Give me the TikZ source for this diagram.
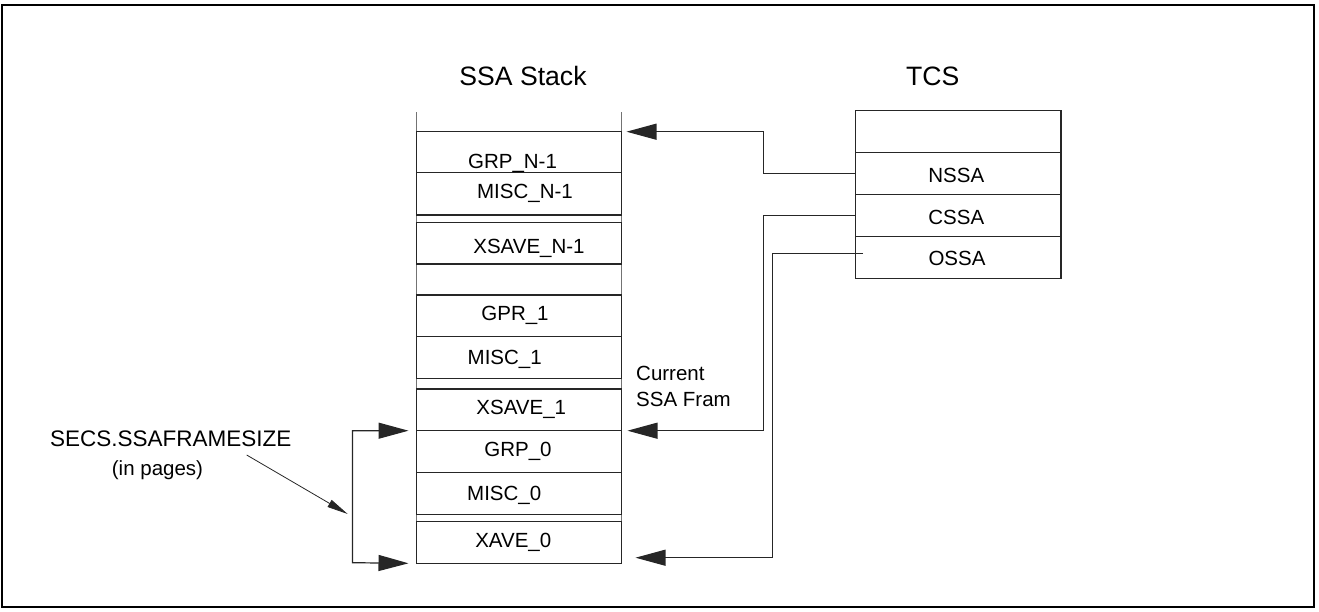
\documentclass[tikz,border=0pt]{standalone}
\usepackage{fontspec}
\setmainfont{Liberation Sans}
\usetikzlibrary{arrows.meta}
\begin{document}
\begin{tikzpicture}[x=1pt,y=-1pt,
  outerframe/.style={draw=black, line width=1.3pt},
  stackline/.style={draw=black!55, line width=1pt},
  cell/.style={draw=black!85, line width=1.2pt, rectangle, inner sep=0pt, outer sep=0pt, anchor=north west, minimum width=205pt},
  tcell/.style={cell, minimum width=205.4pt},
  lbl/.style={font=\fontsize{20.5}{24}\selectfont, inner sep=0pt, anchor=base},
  ttl/.style={font=\fontsize{26.6}{30}\selectfont, inner sep=0pt, anchor=base},
  conn/.style={draw=black!85, line width=1.2pt, -{Triangle[length=30pt,width=16pt]}},
  bracket/.style={draw=black!85, line width=1.2pt, {Triangle[length=30pt,width=16pt]}-{Triangle[length=30pt,width=16pt]}},
  pointer/.style={draw=black!85, line width=0.8pt, -{Triangle[length=21pt,width=8pt]}}
]
\useasboundingbox (0,0) rectangle (1319,611);
\draw[outerframe] (2,5) rectangle (1314,607);

% stack side lines
\draw[stackline] (416.5,112) -- (416.5,563.3);
\draw[stackline] (621.5,112) -- (621.5,563.3);

% stack cells
\node[cell, fill=white, minimum height=41pt]   (gn1) at (416.5,131.7) {};
\node[cell, fill=white, minimum height=42.3pt] (mn1) at (416.5,172.7) {};
\node[cell, fill=white, minimum height=41.7pt] (xn1) at (416.5,222.3) {};
\node[cell, fill=white, minimum height=41.7pt] (g1)  at (416.5,295) {};
\node[cell, fill=white, minimum height=42pt]   (m1)  at (416.5,336.7) {};
\node[cell, fill=white, minimum height=41.7pt] (x1)  at (416.5,389) {};
\node[cell, fill=white, minimum height=41.6pt] (g0)  at (416.5,430.7) {};
\node[cell, fill=white, minimum height=42pt]   (m0)  at (416.5,472.3) {};
\node[cell, fill=white, minimum height=42pt]   (x0)  at (416.5,521.3) {};

\node[lbl] (tgn1) at (512.5,168) {GRP\_N-1};
\node[lbl] (tmn1) at (525,198) {MISC\_N-1};
\node[lbl] (txn1) at (529,253) {XSAVE\_N-1};
\node[lbl] (tg1)  at (515,320.6) {GPR\_1};
\node[lbl] (tm1)  at (504.7,364.6) {MISC\_1};
\node[lbl] (tx1)  at (521.3,414.6) {XSAVE\_1};
\node[lbl] (tg0)  at (518,456.3) {GRP\_0};
\node[lbl] (tm0)  at (504.2,500.3) {MISC\_0};
\node[lbl] (tx0)  at (513.3,547) {XAVE\_0};

% titles
\node[ttl] (stacktitle) at (523,85) {SSA Stack};
\node[ttl] (tcstitle) at (932.7,85) {TCS};

% TCS cells
\node[tcell, minimum height=41.6pt] (t0)   at (855.5,110.7) {};
\node[tcell, minimum height=42pt]   (nssa) at (855.5,152.3) {};
\node[tcell, minimum height=42pt]   (cssa) at (855.5,194.3) {};
\node[tcell, minimum height=42.4pt] (ossa) at (855.5,236.3) {};
\node[lbl] (tnssa) at (956.3,182) {NSSA};
\node[lbl] (tcssa) at (956.3,224) {CSSA};
\node[lbl] (tossa) at (957,265.6) {OSSA};

% connectors
\draw[conn] (nssa.west) -- (763.5,173.3) |- ([xshift=5pt]gn1.north east);
\draw[conn] (cssa.west) -- (763.5,215.3) |- ([xshift=6pt]x1.south east);
\coordinate (os) at (863,253.3);
\draw[conn] (os) -- (772.5,253.3) |- ([xshift=14pt,yshift=5.6pt]x0.south east);

% current frame label
\node[lbl, anchor=base west] (cur1) at (636,380.6) {Current};
\node[lbl, anchor=base west] (cur2) at (636,406.3) {SSA Fram};

% frame size bracket
\draw[bracket] ([xshift=-8pt]x1.south west) -- (352.5,430.7) -- (352.5,562.7) -- ([xshift=-8pt]x0.south west);
\node[lbl, font=\fontsize{22.5}{26}\selectfont] (secs) at (170.8,446) {SECS.SSAFRAMESIZE};
\node[lbl] (pages) at (157.5,475.5) {(in pages)};
\coordinate (ps) at (246.7,455);
\coordinate (pe) at (347.7,514);
\draw[pointer] (ps) -- (pe);
\end{tikzpicture}
\end{document}
